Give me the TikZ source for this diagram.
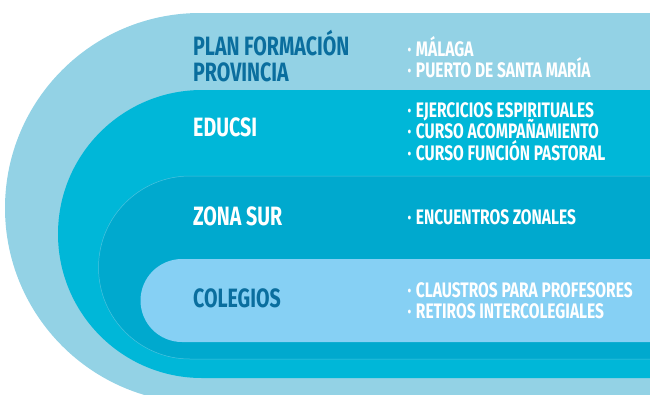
\documentclass[tikz,border=0pt]{standalone}
\usepackage{fontspec}
\setmainfont[FakeStretch=0.74]{Fira Sans}
\definecolor{outerc}{HTML}{93D2E5}
\definecolor{educsic}{HTML}{00B7D8}
\definecolor{zonac}{HTML}{00A9CE}
\definecolor{colec}{HTML}{86D0F4}
\definecolor{darktxt}{HTML}{0A6E9E}
\definecolor{edgec}{HTML}{4CC3DE}
\newcommand{\stadpath}[3]{(700,#2) -- (#1,#2) arc[start angle=90,end angle=270,radius=#3 pt] -- (700,#2+2*#3) -- cycle}
\newcommand{\bul}{·\hspace{4.5pt}}
\tikzset{
  lvl/.style={anchor=base west,inner sep=0pt,font=\fontsize{26.5}{28}\selectfont\bfseries},
  item/.style={anchor=base west,inner sep=0pt,text=white,font=\fontsize{21}{22}\selectfont\bfseries},
}
\begin{document}
\begin{tikzpicture}[x=1pt,y=-1pt]
\useasboundingbox (0,0) rectangle (650,394);
\begin{scope}
\clip (0,0) rectangle (650,394);
\fill[outerc] \stadpath{200}{13}{195};
\fill[educsic] \stadpath{202}{90}{144};
\fill[zonac,draw=edgec,line width=0.5pt] \stadpath{190}{176}{91.5};
\fill[colec] \stadpath{182}{259}{41.5};
\end{scope}
% level labels
\node[lvl,text=darktxt] (plan1) at (193,55) {PLAN FORMACIÓN};
\node[lvl,text=darktxt] (plan2) at (193,81.7) {PROVINCIA};
\node[lvl,text=white] (educsi) at (193,136.5) {EDUCSI};
\node[lvl,text=white] (zona) at (193,225) {ZONA SUR};
\node[lvl,text=darktxt] (cole) at (193,307.5) {COLEGIOS};
% items
\node[item] (i1) at (407.5,56) {\bul MÁLAGA};
\node[item] (i2) at (407.5,77.3) {\bul PUERTO DE SANTA MARÍA};
\node[item] (i3) at (407.5,117.3) {\bul EJERCICIOS ESPIRITUALES};
\node[item] (i4) at (407.5,138.3) {\bul CURSO ACOMPAÑAMIENTO};
\node[item] (i5) at (407.5,160) {\bul CURSO FUNCIÓN PASTORAL};
\node[item] (i6) at (407.5,224) {\bul ENCUENTROS ZONALES};
\node[item] (i7) at (407.5,297.3) {\bul CLAUSTROS PARA PROFESORES};
\node[item] (i8) at (407.5,318.3) {\bul RETIROS INTERCOLEGIALES};
\end{tikzpicture}
\end{document}
